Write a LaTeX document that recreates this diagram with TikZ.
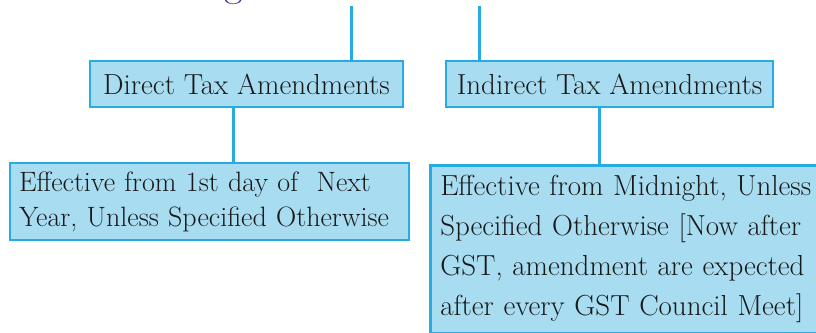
\documentclass[tikz,border=0pt]{standalone}
\usepackage{fontspec}
\definecolor{boxfill}{HTML}{A8DCF1}
\definecolor{boxline}{HTML}{29ABE2}
\definecolor{titleblue}{HTML}{2E3192}
\begin{document}
\begin{tikzpicture}[x=1pt,y=-1pt,
  box/.style={draw=boxline, line width=2.5pt, fill=boxfill, text=black!90,
    font=\fontsize{29}{34}\selectfont},
  conn/.style={draw=boxline, line width=3pt}]
\useasboundingbox (0,0) rectangle (816,332);
\clip (0,0) rectangle (816,332);
\node[text=titleblue, font=\fontsize{40}{40}\selectfont, anchor=base, inner sep=0pt] (ttl) at (234,-4) {g};
\node[box, minimum width=313pt, minimum height=46pt, inner sep=0pt] (dta) at (246.5,84) {Direct Tax Amendments};
\node[box, minimum width=327pt, minimum height=46pt, inner sep=0pt] (ita) at (609.5,84) {Indirect Tax Amendments};
\node[box, text width=381pt, inner xsep=9pt, minimum height=77pt, align=left,
  font=\fontsize{28}{35}\selectfont] (dte) at (209.5,201.5)
  {\mbox{Effective from 1st day of~ Next}\\\mbox{Year, Unless Specified Otherwise}};
\node[box, anchor=north west, text width=400pt, inner xsep=10pt, inner ysep=10pt, align=left,
  font=\fontsize{29}{40}\selectfont] (ite) at (429,164)
  {Effective from Midnight, Unless\\Specified Otherwise [Now after\\GST, amendment are expected\\after every GST Council Meet]};
\coordinate (ta) at (351,6);
\coordinate (tb) at (479,6);
\draw[conn] (ta) -- (ta |- dta.north);
\draw[conn] (tb) -- (tb |- ita.north);
\draw[conn] ([xshift=-13.5pt]dta.south) -- ([xshift=-13.5pt]dta.south |- dte.north);
\draw[conn] ([xshift=-10.5pt]ita.south) -- ([xshift=-10.5pt]ita.south |- ite.north);
\end{tikzpicture}
\end{document}
